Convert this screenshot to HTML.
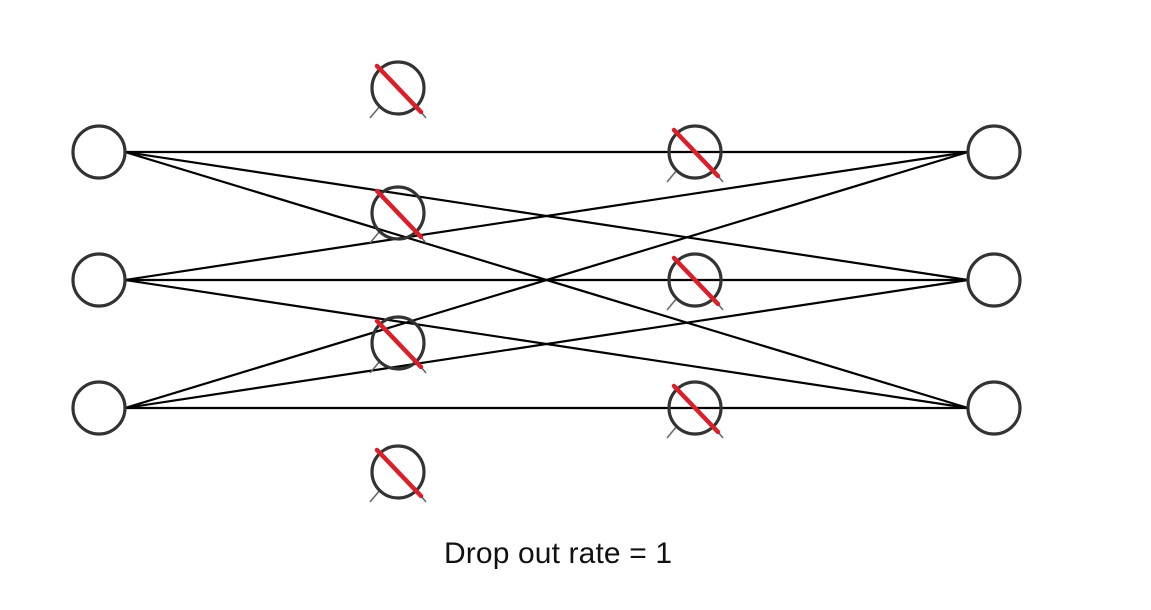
<!DOCTYPE html>
<html><head><meta charset="utf-8"><style>
html,body{margin:0;padding:0;background:#fff;width:1151px;height:610px;overflow:hidden}
svg{display:block}
</style></head><body>
<svg id="net" width="1151" height="610" viewBox="0 0 1151 610" xmlns="http://www.w3.org/2000/svg">
<g id="links"></g>
<g id="nodes"></g>
<text x="444" y="563" font-family="'Liberation Sans', sans-serif" font-size="30" textLength="228" fill="#111">Drop out rate = 1</text>
</svg>
<script>
const inputY = [152, 280, 408];
const outputY = [152, 280, 408];
const hidden1Y = [88, 213, 343, 472];
const hidden2Y = [152, 280, 408];
const layerX = {input: 99, h1: 398, h2: 695, output: 994};
const R = 26;
const NS = 'http://www.w3.org/2000/svg';
const links = document.getElementById('links');
const nodes = document.getElementById('nodes');
function mk(tag, attrs, parent) {
  const e = document.createElementNS(NS, tag);
  for (const k in attrs) e.setAttribute(k, attrs[k]);
  parent.appendChild(e);
  return e;
}
inputY.forEach((yi, i) => {
  outputY.forEach((yo, j) => {
    const l = mk('line', {x1: layerX.input + R, y1: yi, x2: layerX.output - R, y2: yo, stroke: '#000', 'stroke-width': 2.2}, links);
    
    
  });
});
function node(x, y, name, dropped) {
  const g = mk('g', {}, nodes);
  
  
  if (dropped) {
    mk('line', {x1: x - 18, y1: y + 18, x2: x - 28, y2: y + 30, stroke: '#666', 'stroke-width': 1.5}, g);
    mk('line', {x1: x + 18, y1: y + 18, x2: x + 28, y2: y + 30, stroke: '#666', 'stroke-width': 1.5}, g);
  }
  mk('circle', {cx: x, cy: y, r: R, fill: dropped ? 'none' : '#fff', stroke: '#333', 'stroke-width': 3.2}, g);
  if (dropped) {
    mk('line', {x1: x - 21, y1: y - 22, x2: x + 23, y2: y + 24, stroke: '#d9202a', 'stroke-width': 4.5, 'stroke-linecap': 'round'}, g);
  }
}
inputY.forEach((y, i) => node(layerX.input, y, 'input-neuron-' + (i + 1), false));
hidden1Y.forEach((y, i) => node(layerX.h1, y, 'hidden1-dropped-neuron-' + (i + 1), true));
hidden2Y.forEach((y, i) => node(layerX.h2, y, 'hidden2-dropped-neuron-' + (i + 1), true));
outputY.forEach((y, i) => node(layerX.output, y, 'output-neuron-' + (i + 1), false));
</script>
</body></html>
